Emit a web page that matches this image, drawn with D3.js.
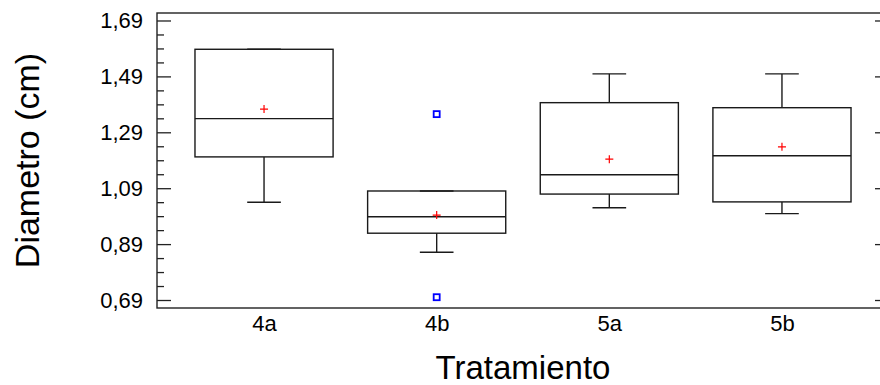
<!DOCTYPE html>
<html>
<head>
<meta charset="utf-8">
<script src="https://cdn.jsdelivr.net/npm/d3@7"></script>
<style>
	body { margin: 0; background: #fff; }
	text { font-family: "Liberation Sans", Arial, sans-serif; fill: #000; }
</style>
</head>
<body>
<div id="graph"></div>
<script>
// values
var categories = ["4a", "4b", "5a", "5b"];
var whiskerLow = [1.040, 0.861, 1.020, 0.999];
var q1 = [1.202, 0.929, 1.069, 1.041];
var median = [1.339, 0.988, 1.138, 1.206];
var q3 = [1.587, 1.080, 1.396, 1.378];
var whiskerHigh = [1.587, 1.080, 1.499, 1.499];
var means = [1.373, 0.994, 1.194, 1.238];
var outlierCat = ["4b", "4b"];
var outlierVal = [1.355, 0.700];
var yTicks = [0.69, 0.89, 1.09, 1.29, 1.49, 1.69];
var yTickLabels = ["0,69", "0,89", "1,09", "1,29", "1,49", "1,69"];

var width = 880, height = 385;
var padding = {left: 157, right: -9, top: 13, bottom: 77};

var graph = d3.select("div#graph")
	.append("svg")
	.attr("width", width)
	.attr("height", height);

var xScale = d3.scaleLinear()
	.domain([0.38, 4.62])
	.range([padding.left, width - padding.right]);
var step = xScale(2) - xScale(1);

var yScale = d3.scaleLinear()
	.domain([0.6614, 1.7168])
	.range([height - padding.bottom, padding.top]);

var xPos = c => xScale(categories.indexOf(c) + 1);

// frame
graph.append("rect")
	.attr("x", padding.left)
	.attr("y", padding.top)
	.attr("width", width - padding.right - padding.left)
	.attr("height", height - padding.bottom - padding.top)
	.attr("fill", "none")
	.attr("stroke", "#222")
	.attr("stroke-width", 1.4);

// minor ticks every 0.05, major on labelled values
var minor = d3.range(0, 21).map(i => 0.69 + i * 0.05).filter(v => yTicks.indexOf(+v.toFixed(2)) < 0);

var leftAxis = d3.axisLeft(yScale).tickValues(minor).tickSize(-7).tickFormat("");
graph.append("g").attr("class", "y axis minor")
	.attr("transform", `translate(${padding.left},0)`)
	.call(leftAxis);

var leftMajor = d3.axisLeft(yScale).tickValues(yTicks).tickSize(-14).tickPadding(14)
	.tickFormat((d, i) => yTickLabels[i]);
graph.append("g").attr("class", "y axis major")
	.attr("transform", `translate(${padding.left},0)`)
	.call(leftMajor);

var rightMajor = d3.axisRight(yScale).tickValues(yTicks).tickSize(-14).tickFormat("");
graph.append("g").attr("class", "y axis right")
	.attr("transform", `translate(${width - padding.right},0)`)
	.call(rightMajor);
var rightMinor = d3.axisRight(yScale).tickValues(minor).tickSize(-7).tickFormat("");
graph.append("g").attr("class", "y axis right")
	.attr("transform", `translate(${width - padding.right},0)`)
	.call(rightMinor);

graph.selectAll(".y.axis path.domain").remove();
graph.selectAll(".y.axis line").attr("stroke", "#222").attr("stroke-width", 1.3);
graph.selectAll(".y.axis text")
	.style("font-size", "22px")
	.attr("fill", "#000");

// x labels
var xAxis = d3.axisBottom(xScale).tickValues([1, 2, 3, 4]).tickSize(0).tickPadding(7)
	.tickFormat(d => categories[d - 1]);
graph.append("g").attr("class", "x axis")
	.attr("transform", `translate(0,${height - padding.bottom})`)
	.call(xAxis);
graph.select(".x.axis path.domain").remove();
graph.selectAll(".x.axis text").style("font-size", "22px").attr("fill", "#000");

// boxes
var boxW = step * 0.8, capW = step * 0.195;
var boxes = graph.append("g").attr("class", "boxes")
	.selectAll("g").data(categories).enter().append("g");

boxes.append("line")
	.attr("x1", d => xPos(d)).attr("x2", d => xPos(d))
	.attr("y1", (d, i) => yScale(whiskerLow[i])).attr("y2", (d, i) => yScale(q1[i]));
boxes.append("line")
	.attr("x1", d => xPos(d)).attr("x2", d => xPos(d))
	.attr("y1", (d, i) => yScale(q3[i])).attr("y2", (d, i) => yScale(whiskerHigh[i]));
boxes.append("line")
	.attr("x1", d => xPos(d) - capW / 2).attr("x2", d => xPos(d) + capW / 2)
	.attr("y1", (d, i) => yScale(whiskerLow[i])).attr("y2", (d, i) => yScale(whiskerLow[i]));
boxes.append("line")
	.attr("x1", d => xPos(d) - capW / 2).attr("x2", d => xPos(d) + capW / 2)
	.attr("y1", (d, i) => yScale(whiskerHigh[i])).attr("y2", (d, i) => yScale(whiskerHigh[i]));
boxes.append("rect")
	.attr("x", d => xPos(d) - boxW / 2)
	.attr("width", boxW)
	.attr("y", (d, i) => yScale(q3[i]))
	.attr("height", (d, i) => yScale(q1[i]) - yScale(q3[i]))
	.attr("fill", "none");
boxes.append("line")
	.attr("x1", d => xPos(d) - boxW / 2).attr("x2", d => xPos(d) + boxW / 2)
	.attr("y1", (d, i) => yScale(median[i])).attr("y2", (d, i) => yScale(median[i]));
boxes.selectAll("line, rect").attr("stroke", "#1a1a1a").attr("stroke-width", 1.4);

// means, drawn as small red plus signs
boxes.append("path")
	.attr("transform", (d, i) => `translate(${xPos(d)},${yScale(means[i])})`)
	.attr("d", "M-4,0H4M0,-4V4")
	.attr("stroke", "#ff0000")
	.attr("stroke-width", 1.2)
	.attr("fill", "none");

// outliers
graph.append("g").attr("class", "outliers")
	.selectAll("rect").data(outlierVal).enter().append("rect")
	.attr("x", (d, i) => xPos(outlierCat[i]) - 3)
	.attr("y", d => yScale(d) - 3)
	.attr("width", 6).attr("height", 6)
	.attr("fill", "none")
	.attr("stroke", "#0000ff")
	.attr("stroke-width", 1.8);

// axis titles
graph.append("text")
	.attr("transform", "rotate(-90)")
	.attr("x", -(padding.top + height - padding.bottom) / 2)
	.attr("y", 39)
	.style("text-anchor", "middle")
	.style("font-size", "34px")
	.text("Diametro (cm)");

graph.append("text")
	.attr("x", (padding.left + width - padding.right) / 2)
	.attr("y", 379)
	.style("text-anchor", "middle")
	.style("font-size", "33px")
	.text("Tratamiento");
</script>
</body>
</html>
